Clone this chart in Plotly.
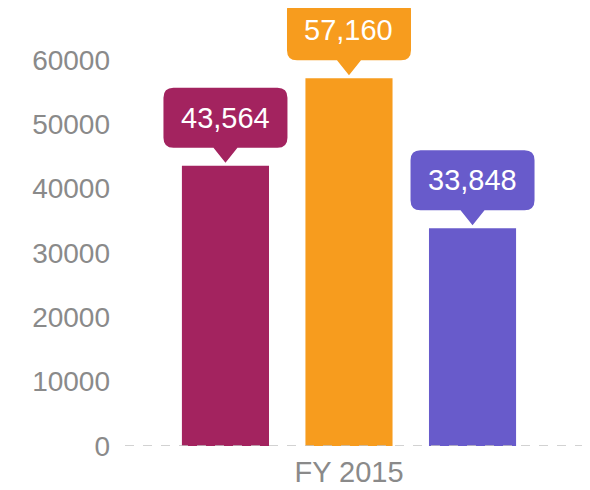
import plotly.graph_objects as go

categories = ["FY 2015"]
series_names = ["Series 1", "Series 2", "Series 3"]
series_values = [43564, 57160, 33848]
series_colors = ["#A3235F", "#F79C1E", "#685BCB"]
y_ticks = [0, 10000, 20000, 30000, 40000, 50000, 60000]

FONT = "Liberation Sans, Arial, sans-serif"
bargap = 0.203
bargroupgap = 0.295

fig = go.Figure()
for name, val, col in zip(series_names, series_values, series_colors):
    fig.add_trace(go.Bar(x=categories, y=[val], name=name, marker=dict(color=col, line=dict(width=0)),
                         hoverinfo="skip"))

n = len(series_values)
slot = (1 - bargap) / n

# callout shape (pixel coordinates relative to bar top, y up)
r = 10
hw = 62
tip = 3
bot = 18
top = 78
ph = 12
path = (f"M 0,{tip} L {-ph},{bot} H {-hw + r} Q {-hw},{bot} {-hw},{bot + r} V {top - r} "
        f"Q {-hw},{top} {-hw + r},{top} H {hw - r} Q {hw},{top} {hw},{top - r} V {bot + r} "
        f"Q {hw},{bot} {hw - r},{bot} H {ph} Z")

for i, (val, col) in enumerate(zip(series_values, series_colors)):
    xo = (i - (n - 1) / 2) * slot
    fig.add_shape(type="path", xref="x", yref="y", xsizemode="pixel", ysizemode="pixel",
                  xanchor=xo, yanchor=val, path=path, fillcolor=col, line=dict(width=0), layer="above")
    fig.add_annotation(x=xo, y=val, xref="x", yref="y", text=f"{val:,}", showarrow=False,
                       yshift=(bot + top) / 2, font=dict(family=FONT, size=29, color="white"))

fig.add_shape(type="line", xref="paper", yref="y", x0=0, x1=1, y0=0, y1=0,
              line=dict(color="#C4C4C4", width=1.5, dash="dash"), layer="above")

fig.update_layout(
    width=582, height=482,
    margin=dict(l=117, r=0, t=0, b=44),
    paper_bgcolor="white", plot_bgcolor="white",
    barmode="group", bargap=bargap, bargroupgap=bargroupgap,
    showlegend=False,
    font=dict(family=FONT, color="#8A8A8A"),
)
fig.update_xaxes(range=[-0.4817, 0.5183], showgrid=False, zeroline=False, showline=False,
                 tickfont=dict(size=29, color="#8A8A8A"), ticks="", ticklabelstandoff=6)
fig.update_yaxes(range=[0, 438 / 386 * 60000], tickvals=y_ticks, tickformat="d", showgrid=False,
                 zeroline=False, showline=False, tickfont=dict(size=28, color="#8A8A8A"),
                 ticklabelstandoff=14)

fig.write_html("out.html")
